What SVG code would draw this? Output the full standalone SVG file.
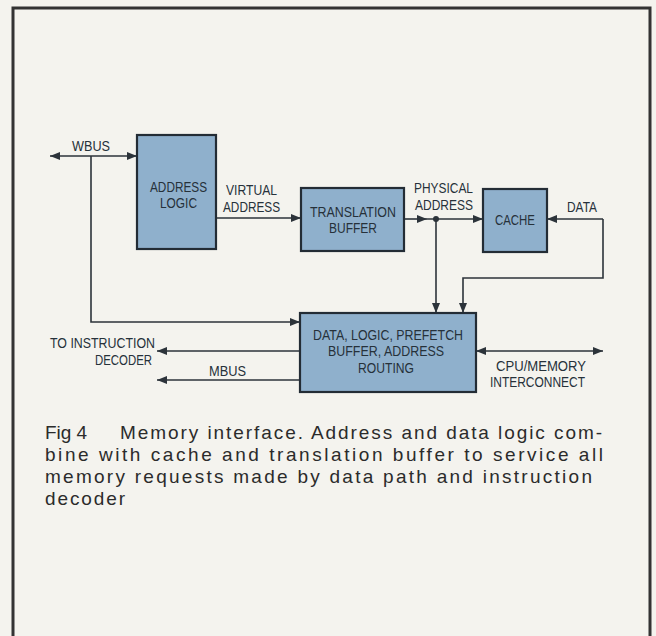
<svg xmlns="http://www.w3.org/2000/svg" width="656" height="636" viewBox="0 0 656 636">
<defs>
<style>
.lbl{font-family:"Liberation Sans",Arial,sans-serif;font-size:15px;fill:#26313a}
.cap{font-family:"Liberation Sans",Arial,sans-serif;font-size:19px;fill:#2b2b2b}
.box{fill:#8fb0cc;stroke:#232c35;stroke-width:2.2}
.ln{fill:none;stroke:#2c333a;stroke-width:1.6}
</style>
<marker id="ah" viewBox="0 0 10 8" refX="10" refY="4" markerWidth="10" markerHeight="8" markerUnits="userSpaceOnUse" orient="auto-start-reverse">
<path d="M0,0 L10,4 L0,8 Z" fill="#2c333a"/>
</marker>
</defs>
<rect x="0" y="0" width="656" height="636" fill="#f4f3ee"/>
<rect x="13" y="8" width="637" height="640" fill="none" stroke="#333" stroke-width="3"/>

<g id="connectors">
<line class="ln" x1="50" y1="156" x2="137" y2="156" marker-start="url(#ah)" marker-end="url(#ah)"/>
<polyline class="ln" points="91,156 91,322 300,322" marker-end="url(#ah)"/>
<line class="ln" x1="216" y1="218" x2="301" y2="218" marker-end="url(#ah)"/>
<line class="ln" x1="404" y1="219" x2="427" y2="219" marker-end="url(#ah)"/>
<line class="ln" x1="427" y1="219" x2="483" y2="219" marker-end="url(#ah)"/>
<circle cx="436" cy="219" r="3" fill="#2c333a"/>
<line class="ln" x1="436" y1="219" x2="436" y2="313" marker-end="url(#ah)"/>
<line class="ln" x1="603" y1="219" x2="547" y2="219" marker-end="url(#ah)"/>
<polyline class="ln" points="603,219 603,278 463,278 463,313" marker-end="url(#ah)"/>
<line class="ln" x1="476" y1="351" x2="603" y2="351" marker-start="url(#ah)" marker-end="url(#ah)"/>
<line class="ln" x1="300" y1="351" x2="157" y2="351" marker-end="url(#ah)"/>
<line class="ln" x1="300" y1="380" x2="157" y2="380" marker-end="url(#ah)"/>
</g>

<g id="address-logic">
<rect class="box" x="137" y="135" width="79" height="114"/>
<text class="lbl" x="150" y="191.5" textLength="57" lengthAdjust="spacingAndGlyphs">ADDRESS</text>
<text class="lbl" x="160" y="207.5" textLength="37" lengthAdjust="spacingAndGlyphs">LOGIC</text>
</g>
<g id="translation-buffer">
<rect class="box" x="301" y="188" width="103" height="63"/>
<text class="lbl" x="310" y="216.5" textLength="86" lengthAdjust="spacingAndGlyphs">TRANSLATION</text>
<text class="lbl" x="329" y="233" textLength="48" lengthAdjust="spacingAndGlyphs">BUFFER</text>
</g>
<g id="cache">
<rect class="box" x="483" y="189" width="64" height="63"/>
<text class="lbl" x="495" y="225" textLength="40" lengthAdjust="spacingAndGlyphs">CACHE</text>
</g>
<g id="data-logic">
<rect class="box" x="300" y="313" width="176" height="79"/>
<text class="lbl" x="313" y="340" textLength="150" lengthAdjust="spacingAndGlyphs">DATA, LOGIC, PREFETCH</text>
<text class="lbl" x="328" y="356" textLength="116" lengthAdjust="spacingAndGlyphs">BUFFER, ADDRESS</text>
<text class="lbl" x="358" y="373" textLength="56" lengthAdjust="spacingAndGlyphs">ROUTING</text>
</g>

<g id="labels">
<text class="lbl" x="72" y="151" textLength="38" lengthAdjust="spacingAndGlyphs">WBUS</text>
<text class="lbl" x="226" y="194.5" textLength="51" lengthAdjust="spacingAndGlyphs">VIRTUAL</text>
<text class="lbl" x="223" y="211.5" textLength="57" lengthAdjust="spacingAndGlyphs">ADDRESS</text>
<text class="lbl" x="414" y="193" textLength="59" lengthAdjust="spacingAndGlyphs">PHYSICAL</text>
<text class="lbl" x="415" y="210" textLength="58" lengthAdjust="spacingAndGlyphs">ADDRESS</text>
<text class="lbl" x="567" y="212" textLength="30" lengthAdjust="spacingAndGlyphs">DATA</text>
<text class="lbl" x="496" y="371" textLength="90" lengthAdjust="spacingAndGlyphs">CPU/MEMORY</text>
<text class="lbl" x="490" y="387" textLength="95" lengthAdjust="spacingAndGlyphs">INTERCONNECT</text>
<text class="lbl" x="50" y="348" textLength="105" lengthAdjust="spacingAndGlyphs">TO INSTRUCTION</text>
<text class="lbl" x="95" y="365" textLength="57" lengthAdjust="spacingAndGlyphs">DECODER</text>
<text class="lbl" x="209" y="376" textLength="37" lengthAdjust="spacingAndGlyphs">MBUS</text>
</g>

<g id="caption">
<text class="cap" x="45" y="439" textLength="42">Fig 4</text>
<text class="cap" x="120" y="439" textLength="482">Memory interface. Address and data logic com-</text>
<text class="cap" x="45" y="461" textLength="558">bine with cache and translation buffer to service all</text>
<text class="cap" x="45" y="483" textLength="547">memory requests made by data path and instruction</text>
<text class="cap" x="45" y="505" textLength="80">decoder</text>
</g>
</svg>
